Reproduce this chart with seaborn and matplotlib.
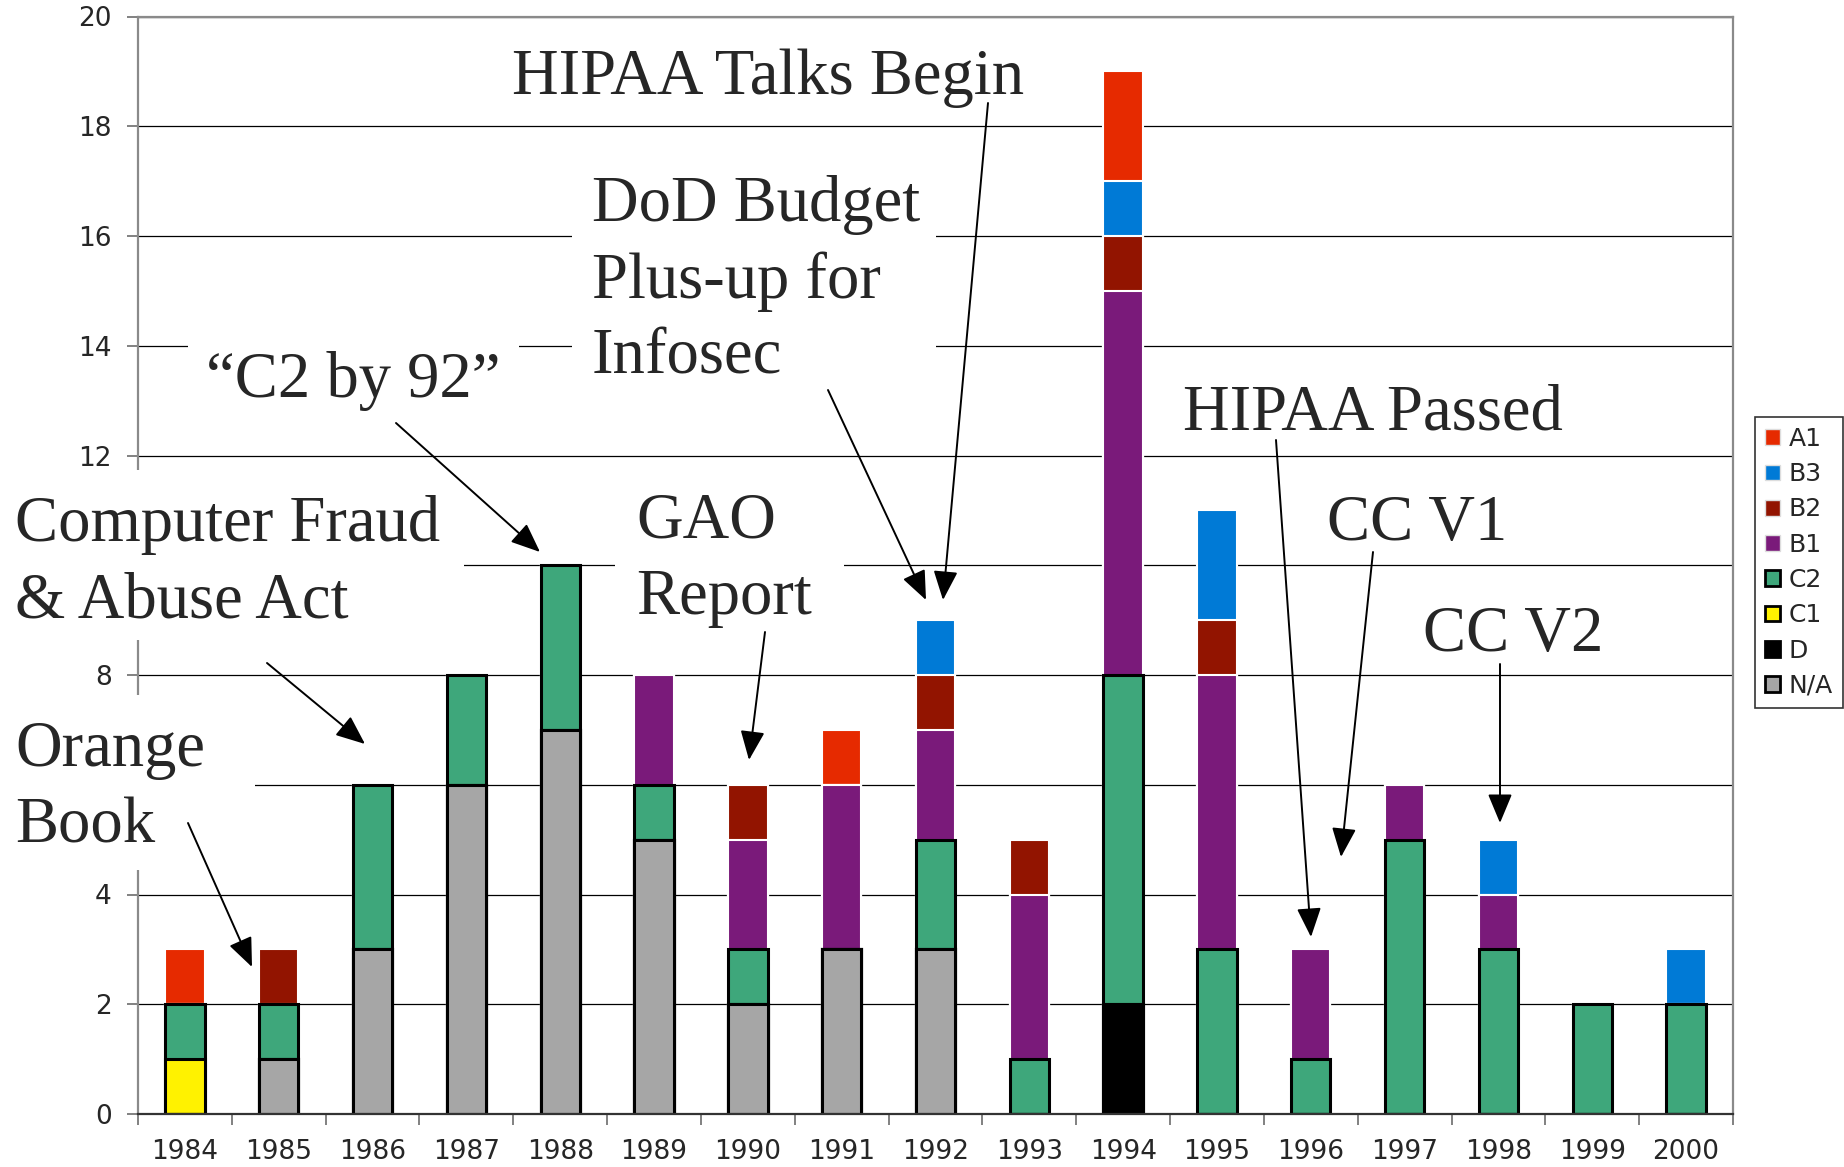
import numpy as np
import pandas as pd
import matplotlib
matplotlib.use("Agg")
import matplotlib.pyplot as plt
from matplotlib.patches import Patch, Rectangle
import seaborn as sns

# Evaluated products per year, by rating class
years = ["1984", "1985", "1986", "1987", "1988", "1989", "1990", "1991", "1992",
         "1993", "1994", "1995", "1996", "1997", "1998", "1999", "2000"]
na = [0, 1, 3, 6, 7, 5, 2, 3, 3, 0, 0, 0, 0, 0, 0, 0, 0]
d  = [0, 0, 0, 0, 0, 0, 0, 0, 0, 0, 2, 0, 0, 0, 0, 0, 0]
c1 = [1, 0, 0, 0, 0, 0, 0, 0, 0, 0, 0, 0, 0, 0, 0, 0, 0]
c2 = [1, 1, 3, 2, 3, 1, 1, 0, 2, 1, 6, 3, 1, 5, 3, 2, 2]
b1 = [0, 0, 0, 0, 0, 2, 2, 3, 2, 3, 7, 5, 2, 1, 1, 0, 0]
b2 = [0, 1, 0, 0, 0, 0, 1, 0, 1, 1, 1, 1, 0, 0, 0, 0, 0]
b3 = [0, 0, 0, 0, 0, 0, 0, 0, 1, 0, 1, 2, 0, 0, 1, 0, 1]
a1 = [1, 0, 0, 0, 0, 0, 0, 1, 0, 0, 2, 0, 0, 0, 0, 0, 0]

# y tick labels; 6 and 10 sit under the note boxes in the original
ytick_labels = ["0", "2", "4", "", "8", "", "12", "14", "16", "18", "20"]

classes = ["N/A", "D", "C1", "C2", "B1", "B2", "B3", "A1"]
colors = {"N/A": "#a6a6a6", "D": "#000000", "C1": "#fff200", "C2": "#3ea77b",
          "B1": "#7a1a7a", "B2": "#921400", "B3": "#007ad6", "A1": "#e62a00"}
edges = {"N/A": "black", "D": "black", "C1": "black", "C2": "black",
         "B1": "white", "B2": "white", "B3": "white", "A1": "white"}

df = pd.DataFrame({"year": years, "N/A": na, "D": d, "C1": c1, "C2": c2,
                   "B1": b1, "B2": b2, "B3": b3, "A1": a1})
cum = df[classes].cumsum(axis=1)

# annotations: text lines, left x, first baseline y (figure pixels from top)
notes = [
    (["HIPAA Talks Begin"], 512, 94),
    (["DoD Budget", "Plus-up for", "Infosec"], 592, 221),
    (["\u201cC2 by 92\u201d"], 206, 397),
    (["Computer Fraud", "& Abuse Act"], 15, 541),
    (["GAO", "Report"], 636, 537),
    (["Orange", "Book"], 15, 766),
    (["HIPAA Passed"], 1183, 429),
    (["CC V1"], 1327, 540),
    (["CC V2"], 1423, 651),
]
arrows = [
    ((988, 103), (943, 600)),
    ((828, 390), (926, 600)),
    ((396, 423), (540, 552)),
    ((267, 663), (365, 744)),
    ((765, 632), (749, 760)),
    ((188, 823), (252, 967)),
    ((1276, 440), (1311, 937)),
    ((1373, 552), (1341, 857)),
    ((1500, 664), (1500, 823)),
]
# white boxes behind the notes (x0, top, x1, bottom), figure pixels
boxes = [(572, 160, 936, 385), (188, 335, 519, 432), (0, 470, 464, 640),
         (615, 470, 844, 660), (0, 695, 255, 870)]

W, H = 1844, 1167
sns.set_style("white")
plt.rcParams["font.family"] = ["DejaVu Sans"]

fig = plt.figure(figsize=(W / 100, H / 100), dpi=100)
ax = fig.add_axes([138 / W, 1 - 1114 / H, (1733 - 138) / W, (1114 - 16.5) / H])

# stacked bars: draw cumulative heights from the top class down
for cls in reversed(classes):
    lw = 2.2 if edges[cls] == "black" else 1.5
    sns.barplot(x=df["year"], y=cum[cls], order=years, color=colors[cls],
                edgecolor=edges[cls], linewidth=lw, width=0.42, saturation=1,
                ax=ax, zorder=2)

ax.set_xlim(-0.5, 16.5)
ax.set_ylim(0, 20)
ax.set_xlabel("")
ax.set_ylabel("")
ax.set_yticks(np.arange(0, 21, 2))
ax.set_yticklabels(ytick_labels)
ax.set_axisbelow(True)
ax.yaxis.grid(True, color="black", linewidth=0.9)
ax.xaxis.grid(False)
ax.set_xticks(np.arange(-0.5, 17, 1), minor=True)
ax.tick_params(axis="x", which="major", length=0, pad=18, labelsize=19)
ax.tick_params(axis="x", which="minor", length=8, width=1.3, color="#777777",
               direction="out", bottom=True)
ax.tick_params(axis="y", length=8, width=1.3, color="#777777", direction="out",
               left=True, pad=11, labelsize=19)
for side in ["left", "top", "right"]:
    ax.spines[side].set_color("#8a8a8a")
    ax.spines[side].set_linewidth(1.6)
ax.spines["bottom"].set_color("#333333")
ax.spines["bottom"].set_linewidth(1.6)

for x0, y0, x1, y1 in boxes:
    ax.add_artist(Rectangle((x0 / W, 1 - y1 / H), (x1 - x0) / W, (y1 - y0) / H,
                            transform=fig.transFigure, facecolor="white",
                            edgecolor="none", zorder=2.7, clip_on=False))

for lines, x, y in notes:
    for i, line in enumerate(lines):
        fig.text(x / W, 1 - (y + i * 76.5) / H, line, ha="left", va="baseline",
                 fontsize=46.5, family=["Liberation Serif", "DejaVu Serif"],
                 zorder=5)

for start, tip in arrows:
    ax.annotate("", xy=(tip[0], H - tip[1]), xytext=(start[0], H - start[1]),
                xycoords="figure pixels", textcoords="figure pixels",
                arrowprops=dict(arrowstyle="-|>,head_length=0.6,head_width=0.25",
                                color="black", lw=1.4, mutation_scale=30,
                                shrinkA=0, shrinkB=0),
                annotation_clip=False, zorder=5)

handles = []
for cls in reversed(classes):
    ec = "black" if edges[cls] == "black" else "#dddddd"
    handles.append(Patch(facecolor=colors[cls], edgecolor=ec,
                         linewidth=2 if ec == "black" else 1, label=cls))
leg = fig.legend(handles=handles, loc="upper left",
                 bbox_to_anchor=(1755 / W, 1 - 417 / H), fontsize=18,
                 frameon=True, fancybox=False, edgecolor="black",
                 handlelength=0.6, handleheight=0.6, handletextpad=0.35,
                 borderpad=0.4, labelspacing=0.45, borderaxespad=0)
leg.get_frame().set_linewidth(1.2)

fig.savefig("out.png", dpi=100)
